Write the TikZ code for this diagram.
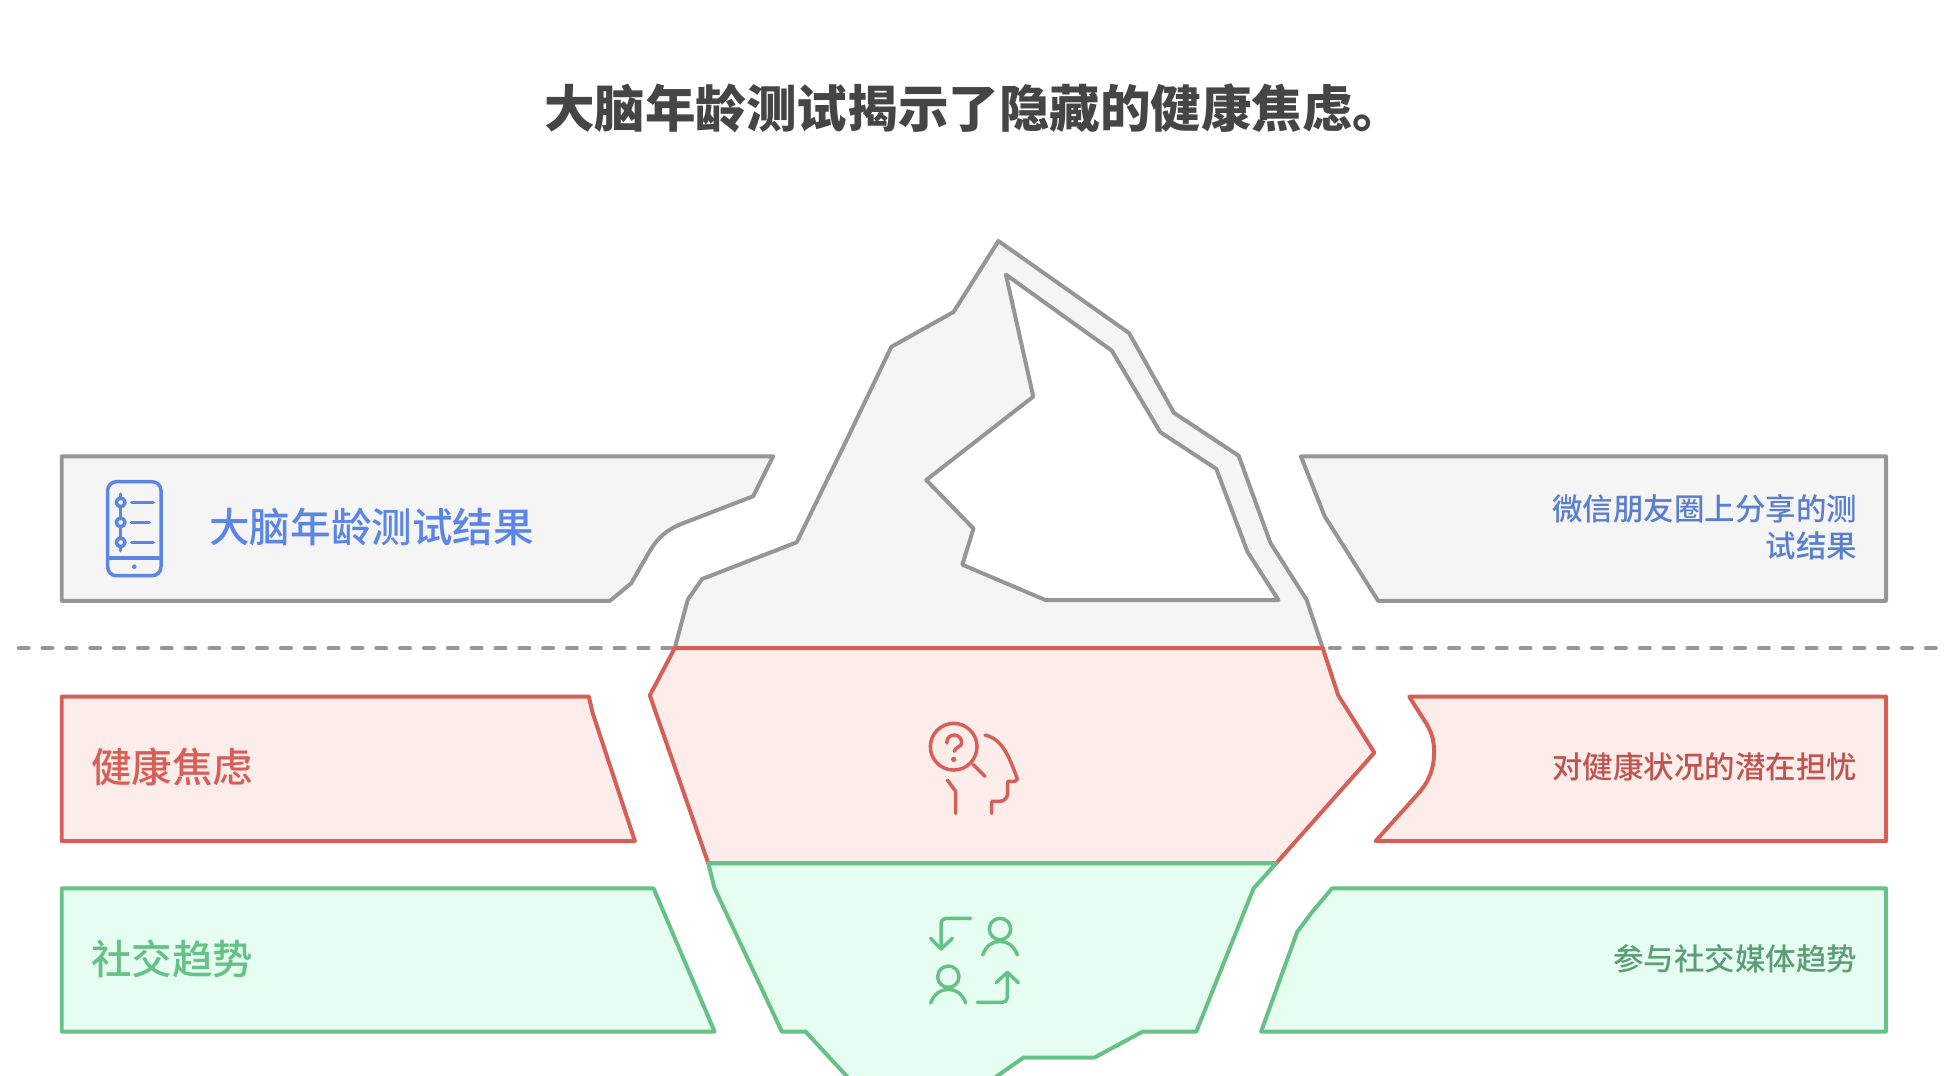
\documentclass[tikz,border=0pt]{standalone}
\usepackage{fontspec}
\newfontfamily\cjk{Noto Sans CJK SC}
\newfontfamily\cjkm{Noto Sans CJK SC Medium}
\definecolor{gline}{HTML}{969696}
\definecolor{gfill}{HTML}{F5F5F5}
\definecolor{rline}{HTML}{D65F58}
\definecolor{rfill}{HTML}{FDEDEA}
\definecolor{eline}{HTML}{66C187}
\definecolor{efill}{HTML}{E6FDF1}
\definecolor{blue1}{HTML}{5B86E5}
\definecolor{blue2}{HTML}{5A7FCF}
\definecolor{red2}{HTML}{BF5450}
\definecolor{green2}{HTML}{5C9E78}
\definecolor{titlec}{HTML}{454545}
\tikzset{
  shape line/.style={line width=3.2pt,line join=round,line cap=round},
  gshape/.style={shape line,draw=gline,fill=gfill},
  rshape/.style={shape line,draw=rline,fill=rfill},
  eshape/.style={shape line,draw=eline,fill=efill},
  icon/.style={line width=2.8pt,line cap=round,line join=round},
  big/.style={inner sep=0pt,font=\cjkm\fontsize{32.6}{38}\selectfont},
  small/.style={inner sep=0pt,align=right,font=\cjkm\fontsize{24.5}{29.4}\selectfont},
}
\begin{document}
\begin{tikzpicture}[x=1pt,y=-1pt]
\useasboundingbox (0,0) rectangle (1568,864);
\clip (0,0) rectangle (1568,864);
\fill[white] (0,0) rectangle (1568,864);
\begin{scope}[shift={(0,0.6)}]
% waterline
\coordinate (wl) at (15,520);
\coordinate (wr) at (1555,520);
\draw[gline,line width=3.2pt,line cap=round,dash pattern=on 8pt off 11.15pt] (wl) -- (wr);
% side boxes
\draw[gshape] (49.6,366) -- (621,366) -- (605,398) -- (548,420) .. controls (535,425) and (528,432) .. (522,442) -- (507,468) -- (490,482) -- (49.6,482) -- cycle;
\draw[gshape] (1045,366) -- (1515,366) -- (1515,482) -- (1107,482) -- (1064,414) -- cycle;
\draw[rshape] (49.6,559) -- (473,559) -- (476,572) -- (510,675) -- (49.6,675) -- cycle;
\draw[rshape] (1132,559) -- (1515,559) -- (1515,675) -- (1105,675) -- (1140,636) .. controls (1148,627) and (1152,616) .. (1152,604) .. controls (1152,594) and (1150,588) .. (1146,581) -- cycle;
\draw[eshape] (49.6,713) -- (525,713) -- (574,828) -- (49.6,828) -- cycle;
\draw[eshape] (1070,713) -- (1515,713) -- (1515,828) -- (1013,828) -- (1042,748) -- (1054,732) -- cycle;
% iceberg
\fill[gfill] (542,520) -- (552.5,481) -- (564,464.5) -- (640,435) -- (680,353) -- (716,278) -- (766,250) -- (802,193) -- (907,267) -- (943,331) -- (995,365.5) -- (1020.5,435.5) -- (1049.5,481) -- (1062.5,520) -- cycle;
\draw[shape line,draw=gline] (542,520) -- (552.5,481) -- (564,464.5) -- (640,435) -- (680,353) -- (716,278) -- (766,250) -- (802,193) -- (907,267) -- (943,331) -- (995,365.5) -- (1020.5,435.5) -- (1049.5,481) -- (1062.5,520);
\draw[shape line,draw=gline,fill=white] (808,220) -- (893,281) -- (932,346.5) -- (977,376) -- (1002,442.5) -- (1027,481.5) -- (840,481.5) -- (773,453) -- (782,424) -- (744,385) -- (830,318) -- cycle;
\draw[rshape] (542,520) -- (1062.5,520) -- (1075,558) -- (1104,604) -- (1025,693) -- (569,693) -- (522,558) -- cycle;
\draw[eshape] (569,693) -- (1025,693) -- (1007,713) -- (961,828) -- (918,828) -- (879,849) -- (822,849) -- (795,868) -- (684,868) -- (647,828) -- (628,828) -- (574,713) -- cycle;
% phone icon
\begin{scope}[shift={(72.3,377.5)},x=0.26776pt,y=-0.26776pt,icon,blue1]
\draw[rounded corners=7pt] (53,33) rectangle (213,315);
\draw (53,262) -- (213,262);
\fill (133,288) circle (7);
\draw (92,70) -- (92,82);
\draw (92,108) -- (92,142);
\draw (92,168) -- (92,202);
\draw (92,228) -- (92,240);
\draw (92,95) circle (13);
\draw (92,155) circle (13);
\draw (92,215) circle (13);
\draw (125,95) -- (190,95);
\draw (125,155) -- (178,155);
\draw (125,215) -- (190,215);
\end{scope}
% head icon
\begin{scope}[shift={(731,570.3)},x=0.26776pt,y=-0.26776pt,icon,rline]
\draw (131,108) circle (70);
\draw (110,97) .. controls (110,65) and (155,65) .. (155,97) .. controls (155,108) and (133,110) .. (133,122);
\fill (131,146) circle (8);
\draw (190,162) -- (225,197);
\draw (225,73) .. controls (275,85) and (295,130) .. (322,205) -- (315,212) -- (293,212) -- (293,245) .. controls (293,262) and (282,272) .. (268,272) -- (245,272) -- (245,308);
\draw (112,208) -- (137,242) -- (137,308);
\end{scope}
% people icon
\begin{scope}[shift={(731,722.9)},x=0.26776pt,y=-0.26776pt,icon,eline]
\draw[rounded corners=4pt] (182,53) -- (93,53) -- (93,145);
\draw (62,113) -- (93,145) -- (127,113);
\draw (270,85) circle (32);
\draw (218,163) .. controls (228,135) and (248,122) .. (270,122) .. controls (292,122) and (312,135) .. (322,163);
\draw (115,228) circle (32);
\draw (62,307) .. controls (72,279) and (93,266) .. (115,266) .. controls (137,266) and (157,279) .. (167,307);
\draw[rounded corners=4pt] (202,305) -- (292,305) -- (292,215);
\draw (258,246) -- (292,215) -- (325,246);
\end{scope}
\end{scope}
% texts
\node[inner sep=0pt,anchor=west,text=titlec,font=\cjk\bfseries\fontsize{40.6}{48}\selectfont] (title) at (437,87) {大脑年龄测试揭示了隐藏的健康焦虑。};
\node[big,anchor=west,text=blue1] (l1) at (168,423) {大脑年龄测试结果};
\node[big,anchor=west,text=rline] (l2) at (73,616) {健康焦虑};
\node[big,anchor=west,text=eline] (l3) at (73,770) {社交趋势};
\node[small,anchor=east,text=blue2] (r1) at (1492,423.5) {微信朋友圈上分享的测\\试结果};
\node[small,anchor=east,text=red2] (r2) at (1492,616) {对健康状况的潜在担忧};
\node[small,anchor=east,text=green2] (r3) at (1492,770) {参与社交媒体趋势};
\end{tikzpicture}
\end{document}
